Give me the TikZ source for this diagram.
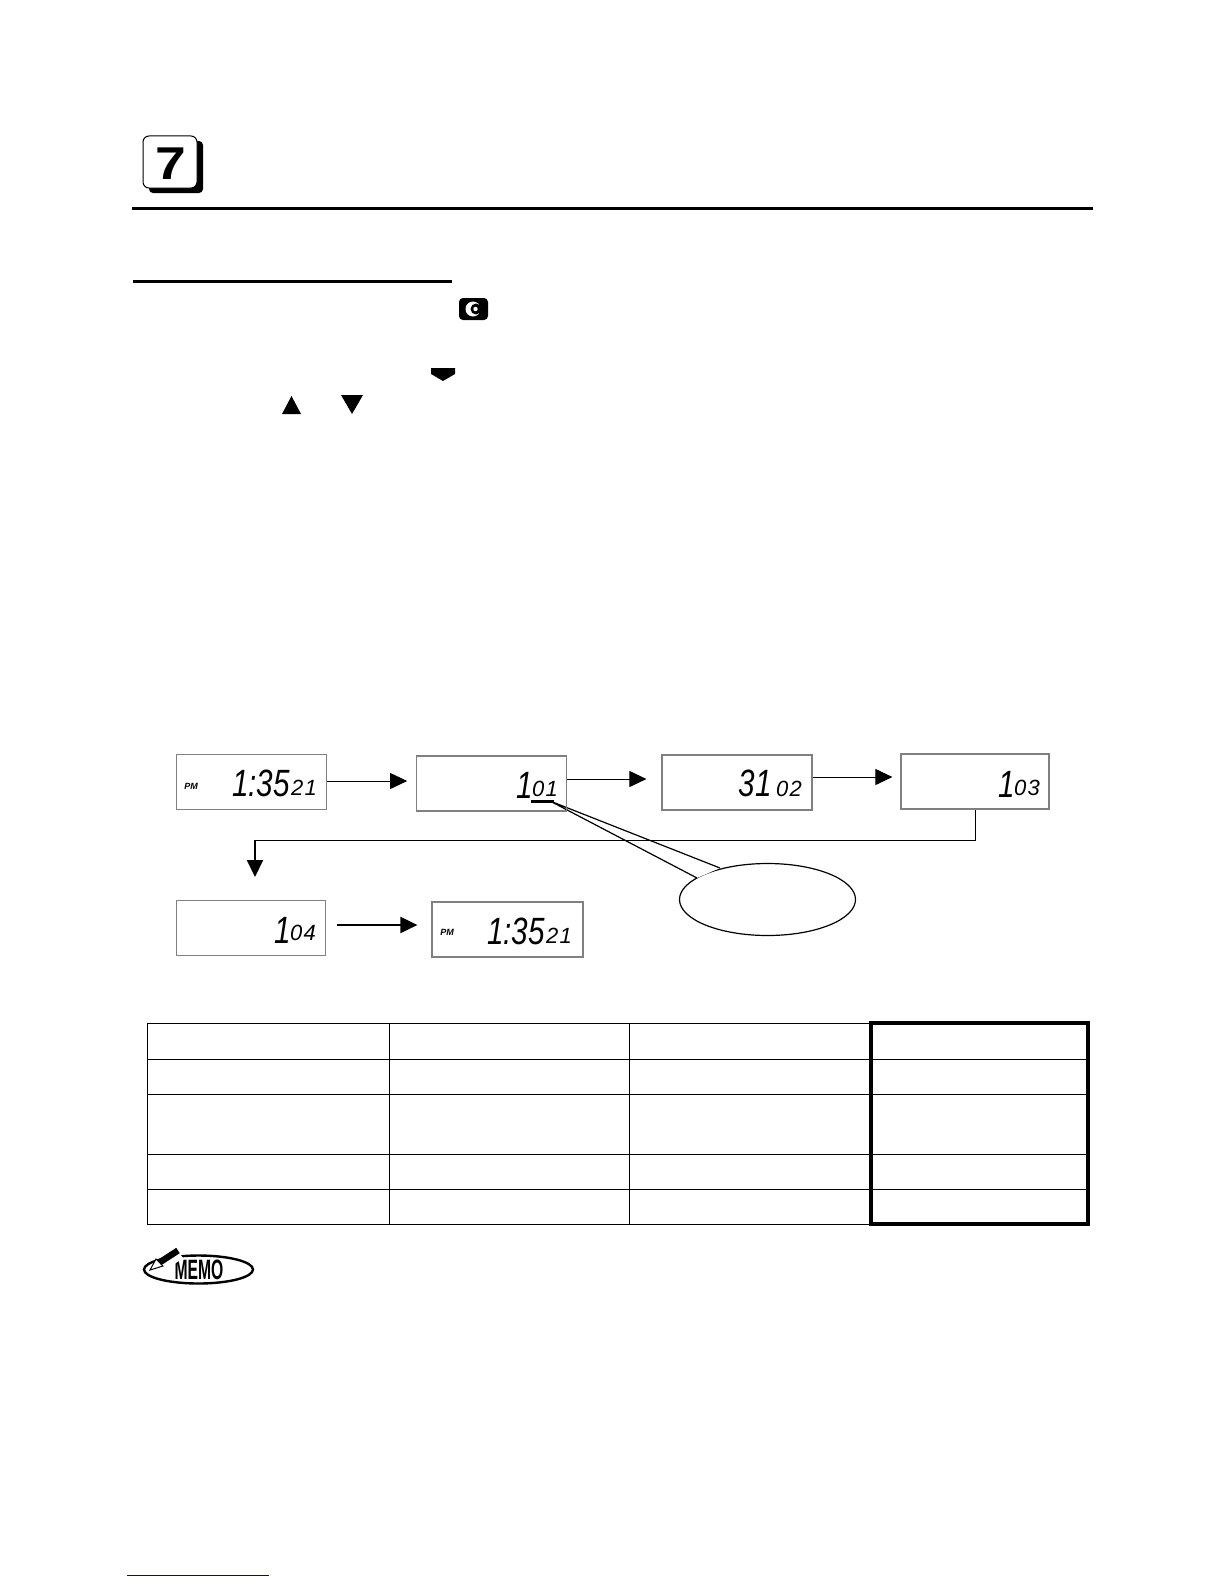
\documentclass[tikz,border=0pt]{standalone}
\usepackage{fontspec}
\setmainfont{Liberation Sans}
\usepackage{tikz}
\usetikzlibrary{arrows.meta,shapes.geometric}

\begin{document}
\begin{tikzpicture}[
    x=0.5pt, y=-0.5pt,
    lcdbox/.style={draw=black!50, line width=0.6pt, minimum width=#1*0.5pt, minimum height=27.5pt, inner sep=0pt},
    lcdbig/.style={font=\fontsize{19}{19}\selectfont\itshape, inner sep=0pt, xscale=0.78},
    lcdsmall/.style={font=\fontsize{11}{11}\selectfont\itshape\addfontfeature{LetterSpace=6}, inner sep=0pt},
    lcdpm/.style={font=\fontsize{4.5}{5}\selectfont\bfseries\itshape, inner sep=0pt},
    lcdwire/.style={line width=0.5pt, -{Triangle[length=8.5pt,width=8pt]}},
    heavywire/.style={line width=1pt, -{Triangle[length=8.5pt,width=8pt]}},
    tablerule/.style={line width=0.5pt},
    keyglyph/.style={fill=black, draw=none}
  ]
  \useasboundingbox (0,0) rectangle (1224,1584);

  % heading
  \fill[rounded corners=2pt] (149,141) rectangle (203,193);
  \node[draw, fill=white, line width=0.5pt, rounded corners=3pt, minimum width=27pt, minimum height=26pt, inner sep=0pt] (keyseven) at (170,162) {};
  \node[font=\fontsize{23}{23}\selectfont\bfseries, inner sep=0pt, xscale=1.2] (digitseven) at (171,163.5) {7};
  \fill (132,206.5) rectangle (1093,209.5);
  \fill (133,279.5) rectangle (452,282.5);

  % keys in the text
  \fill[rounded corners=2pt] (459,298) rectangle (488,320);
  \fill[white] (473,309) circle (7.5);
  \fill (476,309) circle (5.5);
  \fill[white] (475.5,309) circle (2.2);
  \fill[keyglyph] (431,368) -- (455,368) -- (455,374) -- (443,381) -- (431,374) -- cycle;
  \fill[keyglyph] (291.5,396) -- (301,414) -- (282,414) -- cycle;
  \fill[keyglyph] (341,395) -- (363,395) -- (352,414) -- cycle;

  % balloon, under the boxes
  \node[draw, ellipse, line width=0.6pt, minimum width=88pt, minimum height=36pt, inner sep=0pt] (balloon) at (767.5,899.5) {};
  \coordinate (tailtip) at (550,801);
  \coordinate (tailA) at (720,868);
  \coordinate (tailB) at (697,878);
  \fill[white] (tailtip) -- (tailA) -- (tailB) -- cycle;
  \draw[line width=0.6pt] (tailA) -- (tailtip) -- (tailB);

  % displays
  \node[lcdbox=150] (lcdA) at (251.5,782) {};
  \node[lcdbox=149.5] (lcdB) at (491.5,783.5) {};
  \node[lcdbox=150] (lcdC) at (737,782.5) {};
  \node[lcdbox=148] (lcdD) at (975,781.5) {};
  \node[lcdbox=149] (lcdE) at (251,928) {};
  \node[lcdbox=151] (lcdF) at (507.5,929.5) {};

  \node[lcdpm] (pmA) at (191,786) {PM};
  \node[lcdbig] (timeA) at (261,783) {1:35};
  \node[lcdsmall] (secA) at (304,788) {21};
  \node[lcdbig] (monthB) at (525,785) {1};
  \node[lcdsmall] (itemB) at (545,789) {01};
  \node[lcdbig] (dayC) at (755,783) {31};
  \node[lcdsmall] (itemC) at (789,789) {02};
  \node[lcdbig] (valueD) at (1007,784) {1};
  \node[lcdsmall] (itemD) at (1027,788) {03};
  \node[lcdbig] (valueE) at (283,930) {1};
  \node[lcdsmall] (itemE) at (303,933) {04};
  \node[lcdpm] (pmF) at (447,932) {PM};
  \node[lcdbig] (timeF) at (516,931) {1:35};
  \node[lcdsmall] (secF) at (559,936) {21};

  \fill (531,799.5) rectangle (554,802.5);

  \draw[lcdwire, shorten >=4.5pt] (lcdA.east |- 0,781) -- (lcdB.west |- 0,781);
  \draw[lcdwire, shorten >=7.5pt] (lcdB.east |- 0,779) -- (lcdC.west |- 0,779);
  \draw[lcdwire, shorten >=4pt] (lcdC.east |- 0,777) -- (lcdD.west |- 0,777);
  \coordinate (turnD) at (lcdD.south |- 0,840);
  \coordinate (turnE) at (255,840);
  \coordinate (endE) at (255,877);
  \draw[line width=0.5pt] (lcdD.south) -- (turnD) -- (turnE);
  \draw[heavywire] (turnE) -- (endE);
  \draw[heavywire, shorten <=5.5pt, shorten >=7pt] (lcdE.east |- 0,925) -- (lcdF.west |- 0,925);

  % table
  \foreach \ya in {1059, 1094, 1154, 1189}
    \draw[tablerule] (147,\ya) -- (1088,\ya);
  \foreach \xa in {389, 629}
    \draw[tablerule] (\xa,1023) -- (\xa,1224);
  \draw[tablerule] (147,1023) rectangle (871,1224);
  \draw[line width=1.7pt] (871,1023) rectangle (1088,1224);

  % memo mark
  \node[draw, ellipse, line width=1.2pt, minimum width=54.5pt, minimum height=14pt, inner sep=0pt] (memoring) at (198.5,1269.5) {};
  \node[font=\fontsize{14}{14}\selectfont\bfseries, xscale=0.56, inner sep=0pt] (memotext) at (199,1270) {MEMO};
  \fill[white] (148,1273) -- (162,1273) -- (183,1258) -- (176,1248) -- cycle;
  \draw[fill=white, line width=0.5pt] (150,1270) -- (156,1259) -- (163,1266) -- cycle;
  \draw[line width=3.2pt] (159.5,1262.5) -- (178,1250.5);

  % link at the foot of the page
  \fill[blue!65!black] (127,1574.5) rectangle (269,1575.5);
\end{tikzpicture}
\end{document}
